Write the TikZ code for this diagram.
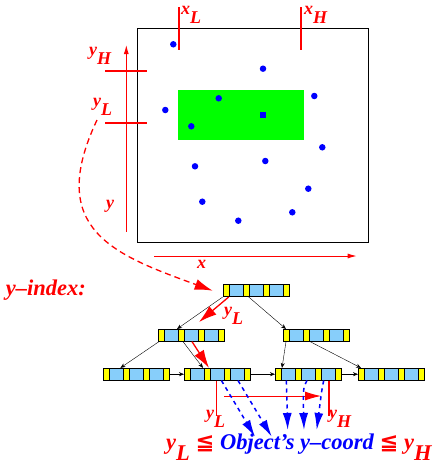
\documentclass[tikz,border=0pt]{standalone}
\usepackage{fontspec}
\setmainfont{Liberation Serif}
\newfontfamily\symfont{DejaVu Sans}
\usetikzlibrary{arrows.meta}
\definecolor{keyred}{HTML}{FF0000}
\definecolor{ptblue}{HTML}{0000FF}
\definecolor{rangegreen}{HTML}{00FF00}
\definecolor{slotyellow}{HTML}{FFFF00}
\definecolor{slotblue}{HTML}{87CEFA}
\newcommand{\lowsub}[2]{#1\raisebox{-0.5em}{#2}}
\newcommand{\leqqsym}{{\symfont\bfseries\upshape ≦}}

\begin{document}
\begin{tikzpicture}[
    x=1pt, y=-1pt,
    bnode/.style={rectangle, draw=black, fill=slotyellow, minimum width=66pt,
        minimum height=12pt, inner sep=0pt, line width=0.6pt,
        path picture={
            \foreach \i in {0,1,2}
                \draw[fill=slotblue, line width=0.6pt]
                    ([xshift=\i*20pt+6pt]path picture bounding box.south west)
                    rectangle ([xshift=\i*20pt+20pt]path picture bounding box.north west);
        }},
    tedge/.style={-{Stealth[length=5pt, width=4pt]}, line width=0.4pt},
    redarr/.style={-{Latex[length=18pt, width=11pt]}, keyred, line width=1.3pt},
    bluearr/.style={-{Latex[length=17pt, width=9pt]}, ptblue, line width=1.5pt,
        dash pattern=on 4pt off 4pt},
    axisarr/.style={-{Latex[length=9pt, width=5pt]}, keyred, line width=1pt},
    tick/.style={keyred, line width=1.8pt},
    dot/.style={circle, fill=ptblue, inner sep=0pt, minimum size=6.5pt},
    lbl/.style={font=\fontsize{18}{20}\selectfont\bfseries\itshape, text=keyred,
        inner sep=0pt, anchor=base west},
    big/.style={font=\fontsize{22.5}{26}\selectfont\bfseries\itshape, inner sep=0pt,
        anchor=base west}
]
    \useasboundingbox (0,0) rectangle (443,466);

    % === data space ===
    \draw[line width=1pt] (137.3,28.3) rectangle (368.3,242.3);
    \fill[rangegreen] (178,90) rectangle (304,139.7);

    \foreach \px/\py [count=\k] in {173.3/44.3, 263/68.7, 314.3/96, 165.3/110,
        218.7/98.3, 191.3/126.3, 322.3/147.3, 195/166.3, 265.3/161,
        308.3/188.7, 202.3/201.7, 292.3/212.3, 238.3/220.7}
        \node[dot] (p\k) at (\px,\py) {};
    \node[rectangle, fill=ptblue, inner sep=0pt, minimum size=6pt] (pq) at (262.7,115) {};

    % === query range ticks ===
    \draw[tick] (179,7.3) -- (179,49.7);
    \draw[tick] (301,7.3) -- (301,49.7);
    \draw[tick] (105,70.7) -- (146.7,70.7);
    \draw[tick] (105,122.7) -- (146.7,122.7);
    \node[lbl] (xlo) at (181,14) {\lowsub{x}{L}};
    \node[lbl] (xhi) at (304,14) {\lowsub{x}{H}};
    \node[lbl] (yhi) at (89,55) {\lowsub{y}{H}};
    \node[lbl] (ylo) at (93,106) {\lowsub{y}{L}};

    % === axes ===
    \draw[axisarr] (126.3,231.7) -- (126.3,45);
    \draw[axisarr] (154,256) -- (356.7,256);
    \node[lbl] (ylab) at (106,208) {y};
    \node[lbl] (xlab) at (197,268) {x};

    % === y-index tree ===
    \node[big, text=keyred, anchor=base east] (idx) at (86,295) {y--index:};

    \node[bnode] (root) at (256,290.7) {};
    \node[bnode] (l2a) at (191.3,335.3) {};
    \node[bnode] (l2b) at (316.3,335.3) {};
    \node[bnode] (lf1) at (136.7,374.2) {};
    \node[bnode] (lf2) at (217.3,374.2) {};
    \node[bnode] (lf3) at (308.3,374.2) {};
    \node[bnode] (lf4) at (391.3,374.2) {};

    \draw[tedge] (root.south west) -- ([xshift=19pt]l2a.north west);
    \draw[tedge] ([xshift=26pt]root.south west) -- ([xshift=3pt]l2b.north west);
    \draw[tedge] ([xshift=1pt]l2a.south west) -- ([xshift=17pt]lf1.north west);
    \draw[tedge] ([xshift=25pt]l2a.south west) -- ([xshift=19pt]lf2.north west);
    \draw[tedge] ([xshift=3pt]l2b.south west) -- ([xshift=7pt]lf3.north west);
    \draw[tedge] ([xshift=27pt]l2b.south west) -- ([xshift=3pt]lf4.north west);
    \draw[tedge] (lf1.east) -- (lf2.west);
    \draw[tedge] (lf2.east) -- (lf3.west);
    \draw[tedge] (lf3.east) -- (lf4.west);

    % --- search path ---
    \coordinate (ylstart) at (97,120);
    \draw[redarr, dash pattern=on 6pt off 4pt]
        (ylstart) .. controls (45,230) and (115,255) .. ([xshift=-10pt]root.west);
    \coordinate (yLhit) at (199,322);
    \draw[redarr] ([xshift=6pt]root.south west) -- (yLhit);
    \node[lbl] (ylroot) at (224,315) {\lowsub{y}{L}};
    \draw[redarr] ([xshift=34pt]l2a.south west) -- ([xshift=25pt]lf2.north west);

    % --- leaf scan ---
    \draw[tick, line width=1.5pt] ([xshift=32.4pt]lf2.south west) -- ++(0,35);
    \draw[tick, line width=1.5pt] ([xshift=54pt]lf3.south west) -- ++(0,35);
    \coordinate (sweepA) at (224,396);
    \coordinate (sweepB) at (321,396);
    \draw[redarr, line width=0.9pt, -{Latex[length=16pt, width=9pt]}] (sweepA) -- (sweepB);
    \node[lbl] (ylleaf) at (206,418) {\lowsub{y}{L}};
    \node[lbl] (yhleaf) at (329,418) {\lowsub{y}{H}};

    \coordinate (hitA) at (255,436.7);
    \coordinate (hitB) at (271.7,436.7);
    \coordinate (hitC) at (287.7,430);
    \coordinate (hitD) at (304,430);
    \coordinate (hitE) at (316.7,430);
    \draw[bluearr] ([xshift=37.4pt]lf2.south west) -- (hitA);
    \draw[bluearr] ([xshift=54pt]lf2.south west) -- (hitB);
    \draw[bluearr] ([xshift=11.4pt]lf3.south west) -- (hitC);
    \draw[bluearr] ([xshift=32pt]lf3.south west) .. controls ++(-4,8) .. (hitD);
    \draw[bluearr] ([xshift=48.7pt]lf3.south west) .. controls ++(-2,10) .. (hitE);

    % === result condition ===
    \node[big] (cond) at (166,449) {\textcolor{keyred}{\lowsub{y}{L} \leqqsym}
        \textcolor{ptblue}{Object’s y--coord}
        \textcolor{keyred}{\leqqsym\ \lowsub{y}{H}}};
\end{tikzpicture}
\end{document}
